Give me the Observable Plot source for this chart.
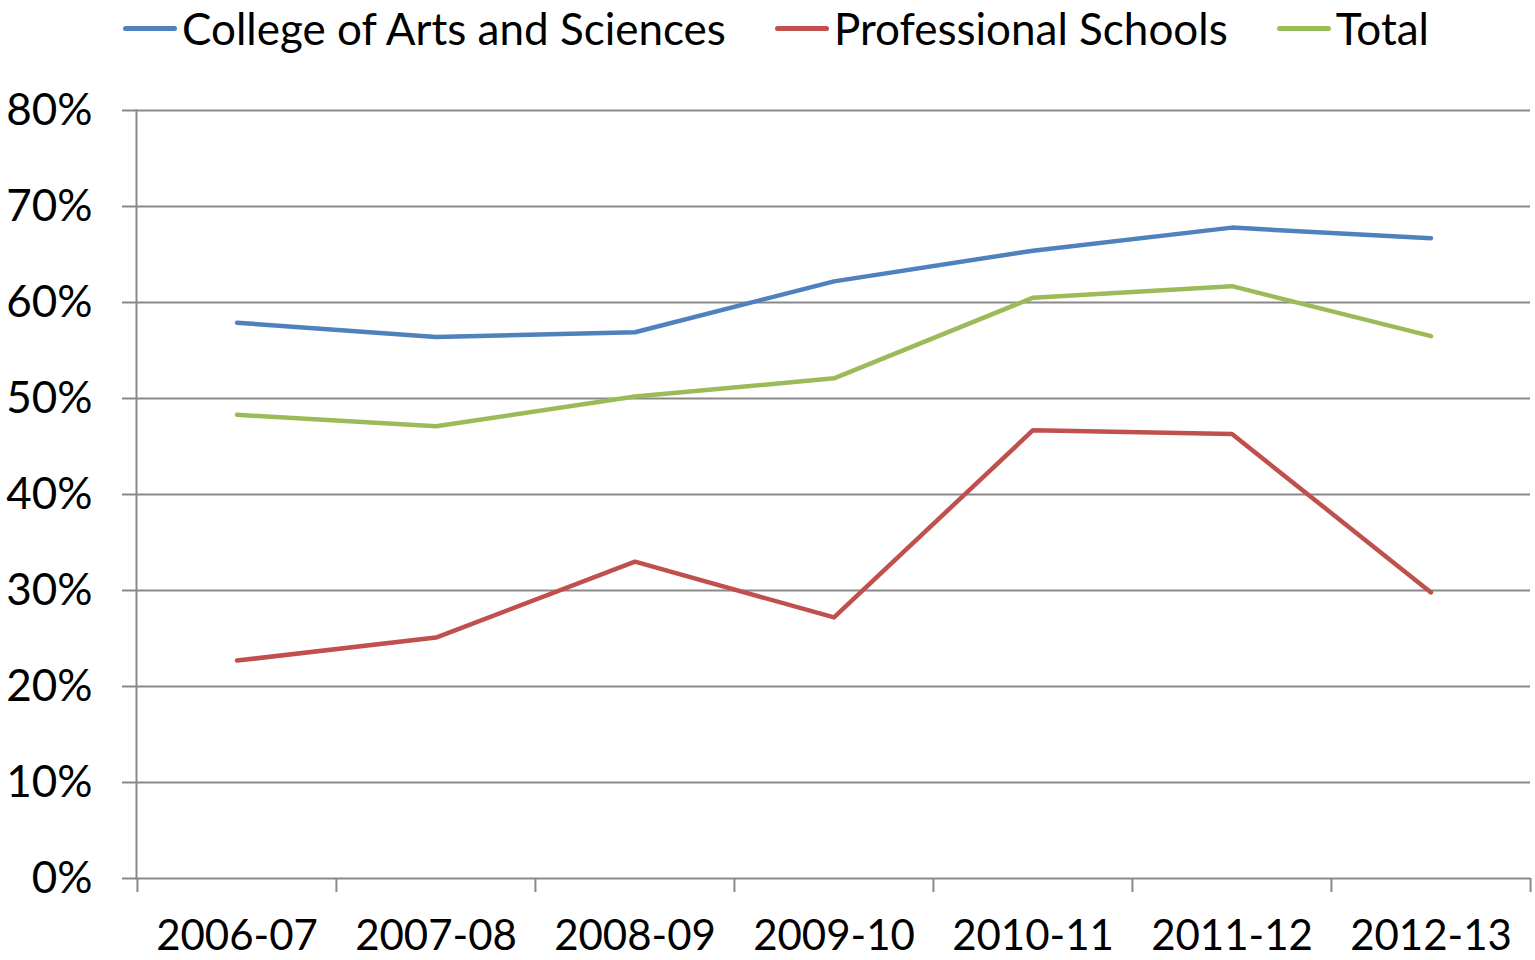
<!DOCTYPE html>
<html>
<head>
<meta charset="utf-8">
<script src="https://cdn.jsdelivr.net/npm/d3@7"></script>
<script src="https://cdn.jsdelivr.net/npm/@observablehq/plot@0.6"></script>
<style>
  html, body { margin: 0; padding: 0; background: #fff; }
  #wrap { position: relative; width: 1535px; height: 960px; overflow: hidden; }
  #legend { position: absolute; top: 2px; left: 123px; display: flex; gap: 49px; align-items: center;
    font-family: Lato, "Open Sans", sans-serif; font-size: 44px; color: #000; white-space: nowrap; }
  .item { display: flex; align-items: center; gap: 5px; }
  .sw { width: 54px; height: 5px; border-radius: 3px; }
  #chart { position: absolute; top: 0; left: 0; }
</style>
</head>
<body>
<div id="wrap">
  <div id="chart"></div>
  <div id="legend"></div>
</div>
<script>
const years = ["2006-07", "2007-08", "2008-09", "2009-10", "2010-11", "2011-12", "2012-13"];
const seriesNames = ["College of Arts and Sciences", "Professional Schools", "Total"];
const seriesColors = ["#4F81BD", "#C0504D", "#9BBB59"];
const collegeValues = [0.579, 0.564, 0.569, 0.622, 0.654, 0.678, 0.667];
const professionalValues = [0.227, 0.251, 0.330, 0.272, 0.467, 0.463, 0.298];
const totalValues = [0.483, 0.471, 0.502, 0.521, 0.605, 0.617, 0.565];
const yTicks = [0, 0.1, 0.2, 0.3, 0.4, 0.5, 0.6, 0.7, 0.8];

const seriesValues = [collegeValues, professionalValues, totalValues];
const rows = [];
seriesNames.forEach((s, si) => years.forEach((y, i) => rows.push({series: s, year: y, value: seriesValues[si][i]})));

const W = 1535, H = 960, mL = 136, mR = 5, mT = 110, mB = 82;
const step = (W - mL - mR) / years.length;
const font = "Lato, 'Open Sans', sans-serif";
const axisColor = "#898989";

const chart = Plot.plot({
  width: W, height: H,
  marginLeft: mL, marginRight: mR, marginTop: mT, marginBottom: mB,
  style: {fontFamily: font, fontSize: "44px", color: "#000", background: "#fff"},
  x: {type: "band", domain: years, padding: 0, label: null},
  y: {domain: [0, 0.8], label: null},
  color: {domain: seriesNames, range: seriesColors},
  marks: [
    Plot.gridY(yTicks, {stroke: axisColor, strokeOpacity: 1, strokeWidth: 2}),
    Plot.axisY(yTicks, {tickSize: 14, tickPadding: 30, tickFormat: d3.format(".0%"), stroke: axisColor, strokeWidth: 2, fontSize: 44, fill: "#000", label: null}),
    Plot.frame({anchor: "left", stroke: axisColor, strokeWidth: 2, strokeOpacity: 1}),
    Plot.axisX({tickSize: 14, tickFormat: () => "", dx: -step / 2, stroke: axisColor, strokeWidth: 2, label: null}),
    Plot.axisX([years[years.length - 1]], {tickSize: 14, tickFormat: () => "", dx: step / 2, stroke: axisColor, strokeWidth: 2, label: null}),
    Plot.axisX({tickSize: 0, tickPadding: 42, fontSize: 42, fill: "#000", label: null}),
    Plot.line(rows, {x: "year", y: "value", z: "series", stroke: "series", strokeWidth: 4.5, strokeLinejoin: "round", strokeLinecap: "round"})
  ]
});
document.getElementById("chart").appendChild(chart);

const legend = document.getElementById("legend");
seriesNames.forEach((s, i) => {
  const item = document.createElement("div");
  item.className = "item";
  const sw = document.createElement("div");
  sw.className = "sw";
  sw.style.background = seriesColors[i];
  const t = document.createElement("span");
  t.textContent = s;
  item.appendChild(sw);
  item.appendChild(t);
  legend.appendChild(item);
});
</script>
</body>
</html>
